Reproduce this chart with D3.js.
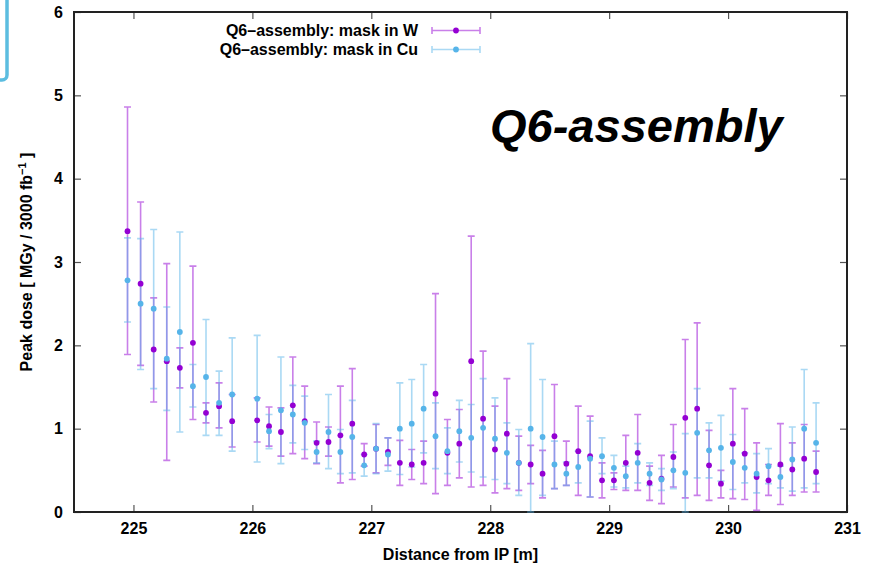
<!DOCTYPE html>
<html>
<head>
<meta charset="utf-8">
<script src="https://cdn.jsdelivr.net/npm/d3@7"></script>
<style>
  body { margin: 0; background: #fff; }
  svg text { font-family: "Liberation Sans", Arial, sans-serif; }
</style>
</head>
<body>
<div id="chart"></div>
<script>
// distance from IP [m]
const distance = [224.95, 225.06, 225.17, 225.28, 225.39, 225.50, 225.61, 225.72, 225.83,
  226.04, 226.14, 226.24, 226.34, 226.44, 226.54, 226.64, 226.74, 226.84, 226.94,
  227.04, 227.14, 227.24, 227.34, 227.44, 227.54, 227.64, 227.74, 227.84, 227.94,
  228.04, 228.14, 228.24, 228.34, 228.44, 228.54, 228.64, 228.74, 228.84, 228.94,
  229.04, 229.14, 229.24, 229.34, 229.44, 229.54, 229.64, 229.74, 229.84, 229.94,
  230.04, 230.14, 230.24, 230.34, 230.44, 230.54, 230.64, 230.74];

// mask in W
const wDose = [3.37, 2.74, 1.95, 1.81, 1.73, 2.03, 1.19, 1.27, 1.09,
  1.10, 1.03, 0.96, 1.28, 1.09, 0.83, 0.84, 0.92, 1.06, 0.69,
  0.76, 0.72, 0.59, 0.57, 0.59, 1.42, 0.71, 0.82, 1.81, 1.12,
  0.75, 0.94, 0.59, 0.57, 0.46, 0.91, 0.58, 0.73, 0.67, 0.38,
  0.38, 0.59, 0.71, 0.35, 0.40, 0.66, 1.13, 1.24, 0.56, 0.34,
  0.82, 0.70, 0.42, 0.38, 0.57, 0.51, 0.64, 0.48];
const wLow = [1.89, 1.76, 1.32, 0.62, 1.49, 1.11, 1.07, 1.01, 0.78,
  0.84, 0.79, 0.67, 0.70, 0.64, 0.58, 0.67, 0.35, 0.39, 0.55,
  0.47, 0.56, 0.32, 0.39, 0.34, 0.22, 0.32, 0.41, 0.30, 0.32,
  0.23, 0.28, 0.26, 0.34, 0.17, 0.28, 0.32, 0.20, 0.18, 0.17,
  0.27, 0.26, 0.26, 0.14, 0.10, 0.30, 0.17, 0.20, 0.14, 0.17,
  0.16, 0.15, 0.02, 0.20, 0.09, 0.20, 0.24, 0.24];
const wHigh = [4.86, 3.72, 2.57, 2.98, 1.97, 2.95, 1.31, 1.55, 1.41,
  1.37, 1.26, 1.25, 1.86, 1.51, 1.08, 1.02, 1.51, 1.72, 0.82,
  1.05, 0.89, 0.86, 0.75, 0.85, 2.62, 1.11, 1.23, 3.31, 1.93,
  1.27, 1.60, 0.91, 0.80, 0.74, 1.53, 0.85, 1.27, 1.15, 0.59,
  0.47, 0.92, 1.17, 0.55, 0.68, 1.05, 2.07, 2.27, 0.98, 0.50,
  1.48, 1.24, 0.83, 0.57, 1.06, 0.83, 1.05, 0.73];

// mask in Cu
const cuDose = [2.78, 2.50, 2.44, 1.84, 2.16, 1.51, 1.62, 1.31, 1.41,
  1.36, 0.97, 1.22, 1.17, 1.07, 0.72, 0.96, 0.72, 0.90, 0.56,
  0.76, 0.69, 1.00, 1.06, 1.24, 0.91, 0.73, 0.97, 0.89, 1.01,
  0.88, 0.71, 0.59, 1.00, 0.90, 0.57, 0.46, 0.54, 0.64, 0.67,
  0.53, 0.43, 0.59, 0.46, 0.39, 0.50, 0.47, 0.95, 0.74, 0.77,
  0.60, 0.53, 0.46, 0.55, 0.42, 0.63, 1.00, 0.83];
const cuLow = [2.28, 1.71, 1.48, 1.22, 0.96, 1.26, 0.92, 0.92, 0.73,
  0.60, 0.76, 0.58, 0.83, 0.75, 0.59, 0.52, 0.46, 0.47, 0.43,
  0.46, 0.49, 0.45, 0.54, 0.71, 0.52, 0.46, 0.60, 0.48, 0.42,
  0.39, 0.34, 0.20, 0.00, 0.20, 0.28, 0.32, 0.35, 0.18, 0.46,
  0.30, 0.29, 0.35, 0.32, 0.26, 0.28, 0.00, 0.41, 0.41, 0.37,
  0.27, 0.35, 0.23, 0.34, 0.29, 0.25, 0.29, 0.34];
const cuHigh = [3.29, 3.28, 3.39, 2.46, 3.36, 1.77, 2.31, 1.69, 2.09,
  2.12, 1.17, 1.86, 1.52, 1.39, 0.85, 1.41, 0.99, 1.34, 0.69,
  1.06, 0.89, 1.55, 1.59, 1.77, 1.31, 1.01, 1.34, 1.29, 1.60,
  1.37, 1.07, 0.99, 2.02, 1.59, 0.85, 0.60, 0.73, 1.09, 0.89,
  0.68, 0.55, 0.82, 0.59, 0.52, 0.72, 0.94, 1.48, 1.07, 1.16,
  0.93, 0.71, 0.70, 0.76, 0.55, 1.02, 1.71, 1.31];

const xTicks = [225, 226, 227, 228, 229, 230, 231];
const yTicks = [0, 1, 2, 3, 4, 5, 6];

const seriesNames = ["Q6\u2013assembly: mask in W", "Q6\u2013assembly: mask in Cu"];
const seriesColors = ["#9400d3", "#56b4e9"];

const W = 872, H = 565;
const margin = {top: 12, right: 25, bottom: 53, left: 74};
const width = W - margin.left - margin.right,
      height = H - margin.top - margin.bottom;

const svg = d3.select("#chart").append("svg")
    .attr("width", W)
    .attr("height", H);

// clipped slide box at the top left corner
svg.append("rect")
    .attr("x", -20).attr("y", -20)
    .attr("width", 27).attr("height", 100)
    .attr("rx", 5)
    .attr("fill", "none")
    .attr("stroke", "#5cbde0")
    .attr("stroke-width", 3.5);

const g = svg.append("g")
    .attr("transform", `translate(${margin.left},${margin.top})`);

const x = d3.scaleLinear().domain([224.5, 231]).range([0, width]);
const y = d3.scaleLinear().domain([0, 6]).range([height, 0]);

// axes with inward ticks on all four sides
const fontSize = 16;
function styleAxis(sel) {
    sel.select(".domain").remove();
    sel.selectAll(".tick line").attr("stroke", "#555").attr("stroke-width", 1.2);
    sel.selectAll(".tick text")
        .attr("fill", "#000")
        .style("font-size", fontSize + "px")
        .style("font-weight", "bold");
}
g.append("g").attr("transform", `translate(0,${height})`)
    .call(d3.axisBottom(x).tickValues(xTicks).tickFormat(d3.format("d")).tickSize(-7).tickPadding(11))
    .call(styleAxis);
g.append("g")
    .call(d3.axisTop(x).tickValues(xTicks).tickFormat("").tickSize(-7))
    .call(styleAxis);
g.append("g")
    .call(d3.axisLeft(y).tickValues(yTicks).tickFormat(d3.format("d")).tickSize(-7).tickPadding(11))
    .call(styleAxis);
g.append("g").attr("transform", `translate(${width},0)`)
    .call(d3.axisRight(y).tickValues(yTicks).tickFormat("").tickSize(-7))
    .call(styleAxis);

// frame
g.append("rect")
    .attr("width", width).attr("height", height)
    .attr("fill", "none")
    .attr("stroke", "#222")
    .attr("stroke-width", 2);

// build rows for each series
const series = [
    distance.map((d, i) => ({x: d, v: wDose[i], lo: wLow[i], hi: wHigh[i]})),
    distance.map((d, i) => ({x: d, v: cuDose[i], lo: cuLow[i], hi: cuHigh[i]}))
];

const cap = 3.5;
series.forEach((rows, s) => {
    const bars = g.append("g")
        .attr("stroke", seriesColors[s])
        .attr("stroke-opacity", 0.5)
        .attr("stroke-width", 1.6)
        .attr("fill", "none");
    bars.selectAll("path")
        .data(rows)
        .enter()
        .append("path")
        .attr("d", d => {
            const px = x(d.x), y0 = y(d.lo), y1 = y(d.hi);
            return `M${px},${y0}V${y1}M${px - cap},${y1}H${px + cap}M${px - cap},${y0}H${px + cap}`;
        });
});
series.forEach((rows, s) => {
    g.append("g").selectAll("circle")
        .data(rows)
        .enter()
        .append("circle")
        .attr("cx", d => x(d.x))
        .attr("cy", d => y(d.v))
        .attr("r", 2.9)
        .attr("fill", seriesColors[s]);
});

// legend
const legend = svg.append("g");
seriesNames.forEach((name, i) => {
    const ly = 30.5 + i * 19;
    legend.append("text")
        .attr("x", 418).attr("y", ly)
        .attr("dy", "0.35em")
        .attr("text-anchor", "end")
        .style("font-size", "16px")
        .style("font-weight", "bold")
        .text(name);
    legend.append("path")
        .attr("d", `M432,${ly}H480M432,${ly - cap}V${ly + cap}M480,${ly - cap}V${ly + cap}`)
        .attr("stroke", seriesColors[i])
        .attr("stroke-opacity", 0.5)
        .attr("stroke-width", 1.6);
    legend.append("circle")
        .attr("cx", 456).attr("cy", ly)
        .attr("r", 2.9)
        .attr("fill", seriesColors[i]);
});

// big label
svg.append("text")
    .attr("x", 490).attr("y", 142)
    .style("font-size", "47px")
    .style("font-weight", "bold")
    .style("font-style", "italic")
    .text("Q6-assembly");

// axis titles
svg.append("text")
    .attr("x", margin.left + x(227.75)).attr("y", 560)
    .attr("text-anchor", "middle")
    .style("font-size", "16px")
    .style("font-weight", "bold")
    .text("Distance from IP [m]");

const yTitle = svg.append("text")
    .attr("transform", `translate(32,${margin.top + height / 2}) rotate(-90)`)
    .attr("text-anchor", "middle")
    .style("font-size", "16px")
    .style("font-weight", "bold");
yTitle.append("tspan").text("Peak dose [ MGy / 3000 fb");
yTitle.append("tspan").attr("dy", -6).style("font-size", "11px").text("\u22121");
yTitle.append("tspan").attr("dy", 6).text(" ]");
</script>
</body>
</html>
